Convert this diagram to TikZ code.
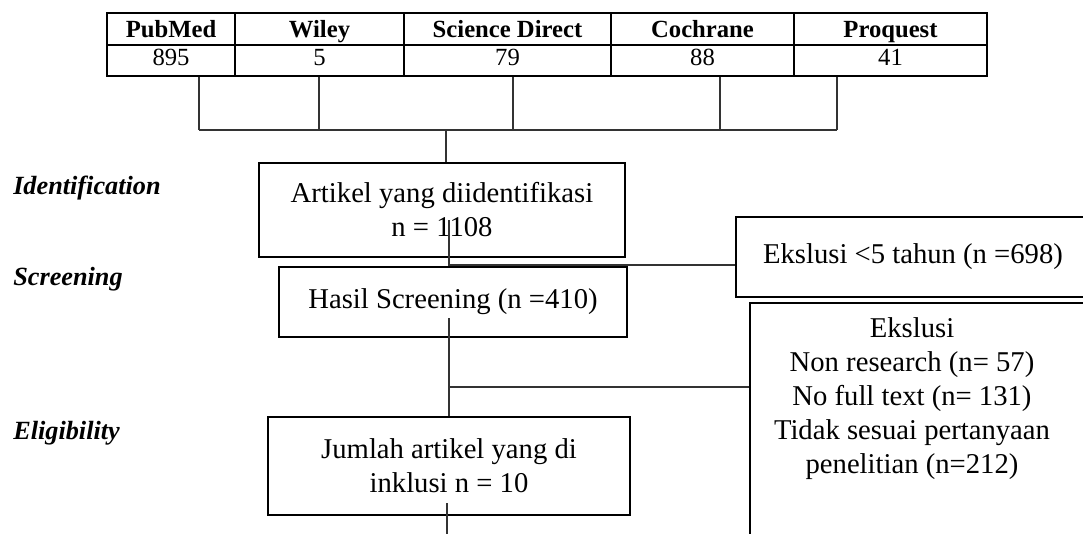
\documentclass[tikz,border=0pt]{standalone}
\usepackage{fontspec}
\setmainfont{Liberation Serif}
\begin{document}
\begin{tikzpicture}[x=0.75pt,y=-0.75pt,
  cell/.style={draw=black, line width=1.4pt, inner sep=0pt, minimum height=#1, font=\fontsize{18.5}{22}\selectfont},
  hcell/.style={cell=24pt, font=\fontsize{18.5}{22}\selectfont\bfseries, text height=13pt, text depth=1pt},
  vcell/.style={cell=23.25pt, text height=13pt, text depth=5.7pt},
  flowbox/.style={draw=black, line width=0.9pt, inner sep=0pt, align=center, font=\fontsize{21.5}{25.5}\selectfont},
  phase/.style={anchor=base west, inner sep=0pt, font=\fontsize{19.7}{23}\selectfont\bfseries\itshape},
  conn/.style={draw=black!80, line width=0.8pt}]
\useasboundingbox (0,0) rectangle (1083,533);
\clip (0,0) rectangle (1083,533);
% table
\node[hcell, minimum width=96pt]     (h1) at (171,29)   {PubMed};
\node[hcell, minimum width=126.75pt] (h2) at (319.5,29) {Wiley};
\node[hcell, minimum width=155.25pt] (h3) at (507.5,29) {Science Direct};
\node[hcell, minimum width=137.25pt] (h4) at (702.5,29) {Cochrane};
\node[hcell, minimum width=144.75pt] (h5) at (890.5,29) {Proquest};
\node[vcell, minimum width=96pt]     (v1) at (171,60.5)   {895};
\node[vcell, minimum width=126.75pt] (v2) at (319.5,60.5) {5};
\node[vcell, minimum width=155.25pt] (v3) at (507.5,60.5) {79};
\node[vcell, minimum width=137.25pt] (v4) at (702.5,60.5) {88};
\node[vcell, minimum width=144.75pt] (v5) at (890.5,60.5) {41};
% phase labels
\node[phase] (lid) at (13,194) {Identification};
\node[phase] (lsc) at (13,285) {Screening};
\node[phase] (lel) at (13,439) {Eligibility};
% boxes
\node[flowbox, minimum width=274.5pt, minimum height=70.5pt] (box1) at (442,210) {Artikel yang diidentifikasi\\n = 1108};
\node[flowbox, minimum width=261pt, minimum height=52.5pt] (box2) at (453,302) {Hasil Screening (n =410)};
\node[flowbox, minimum width=271.5pt, minimum height=73.5pt] (box3) at (449,466) {Jumlah artikel yang di\\inklusi n = 10};
\node[flowbox, minimum width=265.5pt, minimum height=60pt] (ek1) at (913,257) {Ekslusi <5 tahun (n =698)};
\node[flowbox, minimum width=258.75pt, minimum height=222.75pt] (ek2) at (922.5,451.5) {};
\node[inner sep=0pt, align=center, font=\fontsize{21.5}{25.5}\selectfont] (ek2t) at (912,399) {Ekslusi\\Non research (n= 57)\\No full text (n= 131)\\Tidak sesuai pertanyaan\\penelitian (n=212)};
% connectors from table
\coordinate (j1) at (199,130);
\coordinate (j2) at (319,130);
\coordinate (j3) at (513,130);
\coordinate (j4) at (720,130);
\coordinate (j5) at (837,130);
\coordinate (jm) at (446,130);
\draw[conn] (v1.south -| j1) -- (j1);
\draw[conn] (v2.south -| j2) -- (j2);
\draw[conn] (v3.south -| j3) -- (j3);
\draw[conn] (v4.south -| j4) -- (j4);
\draw[conn] (v5.south -| j5) -- (j5);
\draw[conn] (j1) -- (j5);
\draw[conn] (jm) -- (jm |- box1.north);
% flow connectors
\coordinate (a1) at (449,220);
\coordinate (a2) at (449,265);
\draw[conn] (a1) -- (a2) -- (a2 -| ek1.west);
\coordinate (b1) at (449,318);
\coordinate (b2) at (449,387);
\draw[conn] (b1) -- (b1 |- box3.north);
\draw[conn] (b2) -- (b2 -| ek2.west);
\coordinate (c1) at (447,503);
\coordinate (c2) at (447,540);
\draw[conn] (c1) -- (c2);
\end{tikzpicture}
\end{document}
